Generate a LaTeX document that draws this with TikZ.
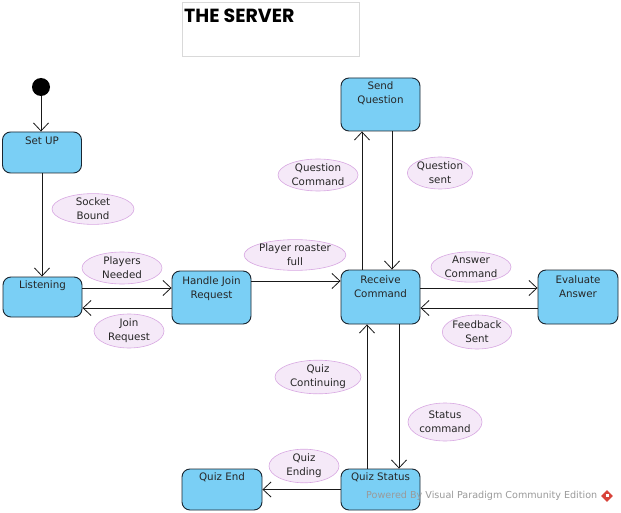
\documentclass[tikz,border=0pt]{standalone}
\usepackage{fontspec}
\setmainfont{DejaVu Sans}
\newfontfamily\titlefont{Poppins}
\usetikzlibrary{shapes.geometric,arrows.meta,calc}
\definecolor{boxfill}{HTML}{7ACFF5}
\definecolor{boxline}{HTML}{1A2530}
\definecolor{ellfill}{HTML}{F5E9F8}
\definecolor{ellline}{HTML}{D8A8E2}
\definecolor{wmgrey}{HTML}{9A9A9A}
\definecolor{vpred}{HTML}{D8433A}
\begin{document}
\begin{tikzpicture}[x=1pt,y=-1pt,
  state/.style={draw=boxline, fill=boxfill, line width=0.9pt, rounded corners=8pt,
     inner sep=0pt, minimum width=79pt},
  stext/.style={font=\fontsize{10.3}{13.8}\selectfont, align=center, anchor=north, inner sep=0pt, text=black!85},
  guard/.style={ellipse, draw=ellline, fill=ellfill, line width=0.6pt, inner sep=0pt,
     font=\fontsize{10.3}{13.8}\selectfont, align=center, text=black!85},
  tr/.style={draw=black!90, line width=0.8pt, -{Straight Barb[length=8pt,width=15pt,line width=0.8pt]}}
]
\useasboundingbox (0,0) rectangle (621,513);
\fill[white] (0,0) rectangle (621,513);
% title
\node[draw=black!15, line width=0.6pt, minimum width=177pt, minimum height=54pt, inner sep=0pt] (title) at (270.5,29) {};
\node[anchor=north west, inner sep=0pt, font=\titlefont\bfseries\fontsize{19}{21}\selectfont] (ttext) at (184,8.5) {THE SERVER};
% initial
\node[circle, fill=black, minimum size=18pt, inner sep=0pt] (init) at (41,87) {};
% states
\node[state, minimum height=41pt] (setup) at (42,152.5) {};
\node[stext] at ([yshift=-5pt]setup.north) {Set UP};
\node[state, minimum height=40pt] (listen) at (42.5,297) {};
\node[stext] at ([yshift=-4pt]listen.north) {Listening};
\node[state, minimum height=53pt] (handle) at (211.5,297.5) {};
\node[stext] at ([yshift=-6pt]handle.north) {Handle Join\\Request};
\node[state, minimum height=54pt] (receive) at (380.5,297) {};
\node[stext] at ([yshift=-6pt]receive.north) {Receive\\Command};
\node[state, minimum height=53pt] (send) at (380.5,104.5) {};
\node[stext] at ([yshift=-4pt]send.north) {Send\\Question};
\node[state, minimum height=54pt, minimum width=80pt] (eval) at (578,297) {};
\node[stext] at ([yshift=-6pt]eval.north) {Evaluate\\Answer};
\node[state, minimum height=41pt] (status) at (380.5,489.5) {};
\node[stext] at ([yshift=-3.5pt]status.north) {Quiz Status};
\node[state, minimum height=41pt, minimum width=80pt] (qend) at (222,489.5) {};
\node[stext] at ([yshift=-3.5pt]qend.north) {Quiz End};
% transitions
\draw[tr] (init) -- (init |- setup.north);
\draw[tr] (setup.south) -- (setup.south |- listen.north);
\draw[tr] ([yshift=9pt]listen.east) -- ([yshift=9pt]listen.east -| handle.west);
\draw[tr] ([yshift=-11pt]listen.east -| handle.west) -- ([yshift=-11pt]listen.east);
\draw[tr] ([yshift=16.5pt]handle.east) -- ([yshift=16.5pt]handle.east -| receive.west);
\draw[tr] ([xshift=-18.5pt]receive.north) -- ([xshift=-18.5pt]receive.north |- send.south);
\draw[tr] ([xshift=11.5pt]send.south) -- ([xshift=11.5pt]send.south |- receive.north);
\draw[tr] ([yshift=9pt]receive.east) -- ([yshift=9pt]receive.east -| eval.west);
\draw[tr] ([yshift=-11pt]eval.west) -- ([yshift=-11pt]eval.west -| receive.east);
\draw[tr] ([xshift=-13.5pt]status.north) -- ([xshift=-13.5pt]status.north |- receive.south);
\draw[tr] ([xshift=18.5pt]receive.south) -- ([xshift=18.5pt]receive.south |- status.north);
\draw[tr] (status.west) -- (qend.east);
% guards
\node[guard, minimum width=82pt, minimum height=30pt] (g1) at (93,209) {Socket\\Bound};
\node[guard, minimum width=80pt, minimum height=32pt] (g2) at (122,268) {Players\\Needed};
\node[guard, minimum width=70pt, minimum height=34pt] (g3) at (129,331) {Join\\Request};
\node[guard, minimum width=88pt, minimum height=30pt] (g4) at (295,255) {Player roaster\\full};
\node[guard, minimum width=80pt, minimum height=32pt] (g5) at (318,175) {Question\\Command};
\node[guard, minimum width=64pt, minimum height=32pt] (g6) at (440,173) {Question\\sent};
\node[guard, minimum width=80pt, minimum height=30pt] (g7) at (471,267) {Answer\\Command};
\node[guard, minimum width=62pt, minimum height=34pt] (g8) at (477,332) {Feedback\\Sent};
\node[guard, minimum width=86pt, minimum height=30pt] (g9) at (318,377) {Quiz\\Continuing};
\node[guard, minimum width=74pt, minimum height=38pt] (g10) at (445,422) {Status\\command};
\node[guard, minimum width=70pt, minimum height=32pt] (g11) at (304,466) {Quiz\\Ending};
% watermark
\node[anchor=west, inner sep=0pt, text=wmgrey, font=\fontsize{9.6}{11}\selectfont] (wm) at (366,496) {Powered By Visual Paradigm Community Edition};
\node[diamond, fill=vpred, minimum size=12pt, inner sep=0pt] (icon) at (607,496) {};
\fill[white] (icon.center) ++(-1.5,-2) rectangle ++(3,3);
\end{tikzpicture}
\end{document}
